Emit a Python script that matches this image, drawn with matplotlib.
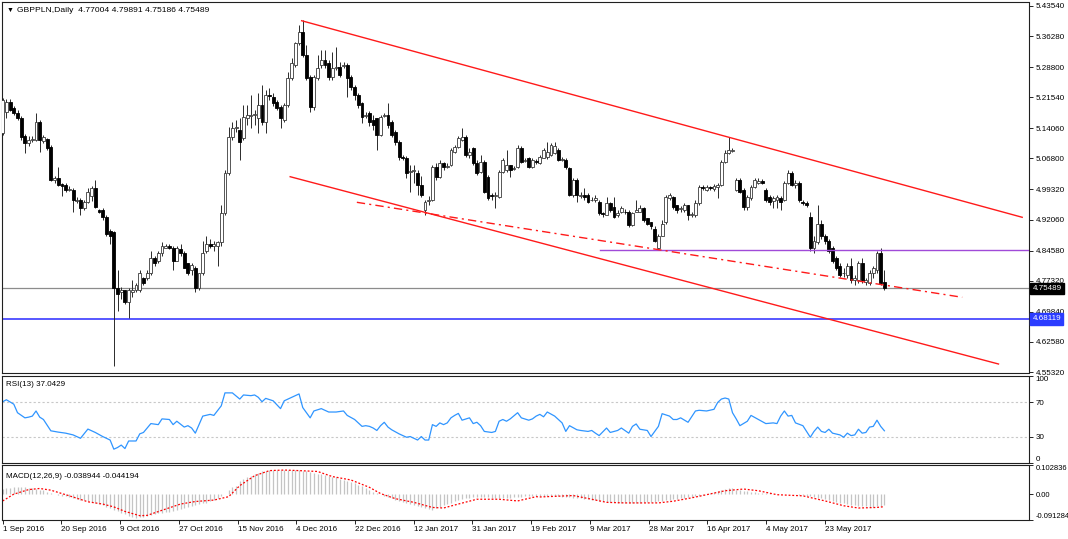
import numpy as np
import matplotlib
matplotlib.use('Agg')
import matplotlib.pyplot as plt
from matplotlib.transforms import blended_transform_factory

plt.rcParams['font.family'] = ['Liberation Sans', 'DejaVu Sans']

W, H = 1068, 539
FS = 5.8

# ---- GBPPLN daily bars ----
opens = [
    5.129, 5.180, 5.204, 5.189, 5.177, 5.165, 5.122, 5.105, 5.112, 5.112,
    5.155, 5.109, 5.114, 5.095, 5.015, 5.020, 5.006, 5.003, 4.991, 4.991,
    4.965, 4.967, 4.948, 4.962, 4.977, 4.996, 4.943, 4.943, 4.926, 4.894,
    4.890, 4.755, 4.747, 4.750, 4.721, 4.747, 4.750, 4.750, 4.781, 4.781,
    4.791, 4.829, 4.822, 4.839, 4.853, 4.856, 4.853, 4.822, 4.849, 4.841,
    4.815, 4.798, 4.805, 4.755, 4.791, 4.846, 4.861, 4.856, 4.858, 4.866,
    4.936, 5.032, 5.119, 5.141, 5.136, 5.117, 5.165, 5.170, 5.172, 5.165,
    5.196, 5.155, 5.220, 5.216, 5.204, 5.192, 5.160, 5.196, 5.262, 5.293,
    5.346, 5.373, 5.317, 5.264, 5.192, 5.262, 5.293, 5.305, 5.298, 5.264,
    5.286, 5.288, 5.291, 5.293, 5.264, 5.240, 5.220, 5.201, 5.170, 5.177,
    5.160, 5.165, 5.124, 5.170, 5.172, 5.155, 5.131, 5.107, 5.071, 5.068,
    5.035, 5.037, 5.032, 5.003, 4.943, 4.965, 4.967, 5.047, 5.023, 5.056,
    5.047, 5.052, 5.083, 5.095, 5.112, 5.119, 5.076, 5.093, 5.056, 5.035,
    5.059, 5.023, 4.979, 4.977, 4.974, 5.035, 5.039, 5.052, 5.042, 5.047,
    5.093, 5.061, 5.068, 5.047, 5.061, 5.056, 5.068, 5.071, 5.076, 5.080,
    5.088, 5.064, 5.064, 5.044, 4.979, 5.015, 4.977, 4.979, 4.979, 4.967,
    4.967, 4.962, 4.936, 4.931, 4.960, 4.950, 4.931, 4.940, 4.940, 4.938,
    4.907, 4.940, 4.940, 4.948, 4.924, 4.916, 4.899, 4.853, 4.882, 4.914,
    4.972, 4.974, 4.955, 4.945, 4.943, 4.955, 4.931, 4.931, 4.960, 4.998,
    4.991, 4.998, 4.994, 4.998, 5.003, 5.059, 5.080, 5.085, 4.991, 5.015,
    4.991, 4.950, 4.972, 4.998, 5.008, 5.013, 4.991, 4.974, 4.965, 4.967,
    4.972, 4.967, 5.008, 5.032, 5.003, 5.008, 4.962, 4.960, 4.926, 4.851,
    4.866, 4.909, 4.880, 4.870, 4.851, 4.827, 4.810, 4.791, 4.786, 4.808,
    4.776, 4.774, 4.817, 4.771, 4.769, 4.791, 4.798, 4.841, 4.77004,
]
highs = [
    5.213, 5.211, 5.211, 5.194, 5.184, 5.170, 5.126, 5.122, 5.122, 5.177,
    5.160, 5.124, 5.117, 5.100, 5.025, 5.047, 5.010, 5.008, 5.001, 4.996,
    4.974, 4.972, 4.967, 4.996, 5.001, 5.015, 4.945, 4.948, 4.931, 4.899,
    4.894, 4.798, 4.757, 4.752, 4.755, 4.776, 4.767, 4.798, 4.783, 4.798,
    4.846, 4.834, 4.846, 4.866, 4.861, 4.861, 4.858, 4.856, 4.861, 4.846,
    4.817, 4.817, 4.810, 4.793, 4.870, 4.880, 4.875, 4.870, 4.870, 4.955,
    5.039, 5.143, 5.155, 5.160, 5.165, 5.196, 5.196, 5.220, 5.184, 5.225,
    5.245, 5.232, 5.237, 5.225, 5.208, 5.196, 5.201, 5.276, 5.310, 5.349,
    5.390, 5.402, 5.341, 5.269, 5.269, 5.317, 5.329, 5.329, 5.305, 5.324,
    5.336, 5.300, 5.300, 5.298, 5.269, 5.245, 5.225, 5.204, 5.180, 5.182,
    5.172, 5.165, 5.172, 5.177, 5.201, 5.160, 5.136, 5.112, 5.076, 5.073,
    5.052, 5.052, 5.039, 5.025, 4.967, 4.977, 5.052, 5.056, 5.064, 5.059,
    5.056, 5.093, 5.100, 5.122, 5.141, 5.124, 5.093, 5.095, 5.064, 5.076,
    5.064, 5.027, 4.984, 4.986, 5.039, 5.068, 5.088, 5.052, 5.049, 5.100,
    5.097, 5.068, 5.071, 5.068, 5.066, 5.076, 5.093, 5.107, 5.105, 5.107,
    5.093, 5.071, 5.068, 5.047, 5.020, 5.020, 4.986, 4.996, 4.984, 4.974,
    4.979, 4.967, 4.938, 4.974, 4.962, 4.974, 4.943, 4.953, 4.945, 4.943,
    4.940, 4.967, 4.955, 4.950, 4.924, 4.916, 4.904, 4.887, 4.919, 4.979,
    4.984, 4.977, 4.957, 4.953, 4.960, 4.957, 4.938, 4.967, 5.003, 5.003,
    5.003, 5.001, 5.006, 5.008, 5.064, 5.088, 5.119, 5.093, 5.020, 5.020,
    4.996, 4.979, 5.003, 5.020, 5.020, 5.018, 4.996, 4.979, 4.977, 4.979,
    4.977, 5.013, 5.039, 5.037, 5.015, 5.013, 4.967, 4.965, 4.938, 4.880,
    4.955, 4.919, 4.885, 4.875, 4.858, 4.834, 4.815, 4.803, 4.817, 4.829,
    4.788, 4.822, 4.827, 4.779, 4.798, 4.810, 4.846, 4.851, 4.79891,
]
lows = [
    5.124, 5.165, 5.182, 5.172, 5.160, 5.112, 5.080, 5.097, 5.107, 5.109,
    5.083, 5.105, 5.088, 5.013, 5.010, 5.001, 4.977, 4.986, 4.989, 4.938,
    4.960, 4.931, 4.943, 4.960, 4.965, 4.948, 4.936, 4.919, 4.882, 4.863,
    4.568, 4.701, 4.730, 4.718, 4.684, 4.735, 4.745, 4.747, 4.764, 4.776,
    4.788, 4.810, 4.817, 4.834, 4.851, 4.849, 4.798, 4.820, 4.834, 4.803,
    4.786, 4.786, 4.747, 4.752, 4.788, 4.841, 4.851, 4.846, 4.810, 4.858,
    4.931, 5.027, 5.112, 5.131, 5.064, 5.112, 5.148, 5.141, 5.148, 5.129,
    5.148, 5.129, 5.208, 5.194, 5.184, 5.141, 5.155, 5.192, 5.257, 5.288,
    5.341, 5.312, 5.257, 5.180, 5.184, 5.257, 5.286, 5.286, 5.257, 5.257,
    5.281, 5.264, 5.286, 5.216, 5.232, 5.208, 5.189, 5.153, 5.165, 5.146,
    5.136, 5.088, 5.122, 5.167, 5.141, 5.119, 5.100, 5.064, 5.064, 5.020,
    4.986, 5.010, 4.979, 4.974, 4.931, 4.955, 4.965, 5.015, 5.020, 5.039,
    5.044, 5.049, 5.080, 5.093, 5.109, 5.071, 5.068, 5.052, 5.027, 5.032,
    4.984, 4.967, 4.967, 4.948, 4.972, 5.032, 5.035, 5.023, 5.039, 5.044,
    5.056, 5.059, 5.044, 5.044, 5.054, 5.054, 5.068, 5.066, 5.073, 5.078,
    5.061, 5.061, 5.042, 4.977, 4.974, 4.962, 4.972, 4.967, 4.960, 4.965,
    4.962, 4.931, 4.928, 4.931, 4.938, 4.924, 4.926, 4.936, 4.933, 4.902,
    4.904, 4.938, 4.938, 4.914, 4.907, 4.899, 4.866, 4.849, 4.880, 4.911,
    4.969, 4.945, 4.936, 4.938, 4.940, 4.919, 4.928, 4.928, 4.957, 4.991,
    4.989, 4.991, 4.989, 4.972, 5.001, 5.056, 5.078, 5.083, 4.989, 4.984,
    4.943, 4.943, 4.969, 4.996, 5.006, 5.006, 4.962, 4.955, 4.948, 4.948,
    4.943, 4.965, 5.006, 5.001, 4.996, 4.962, 4.955, 4.950, 4.846, 4.841,
    4.861, 4.875, 4.863, 4.841, 4.817, 4.800, 4.783, 4.783, 4.781, 4.769,
    4.764, 4.769, 4.769, 4.762, 4.764, 4.779, 4.793, 4.764, 4.75186,
]
closes = [
    5.208, 5.204, 5.184, 5.177, 5.165, 5.119, 5.105, 5.112, 5.114, 5.155,
    5.112, 5.119, 5.093, 5.015, 5.020, 5.003, 5.001, 4.991, 4.994, 4.967,
    4.967, 4.948, 4.962, 4.986, 4.996, 4.950, 4.940, 4.926, 4.887, 4.882,
    4.755, 4.742, 4.752, 4.721, 4.750, 4.750, 4.762, 4.791, 4.769, 4.793,
    4.829, 4.817, 4.839, 4.858, 4.856, 4.851, 4.822, 4.851, 4.839, 4.805,
    4.791, 4.812, 4.755, 4.791, 4.841, 4.861, 4.856, 4.861, 4.866, 4.936,
    5.032, 5.119, 5.141, 5.143, 5.107, 5.167, 5.172, 5.172, 5.175, 5.196,
    5.155, 5.220, 5.218, 5.201, 5.189, 5.165, 5.196, 5.262, 5.298, 5.346,
    5.373, 5.317, 5.262, 5.192, 5.264, 5.286, 5.305, 5.293, 5.264, 5.286,
    5.288, 5.269, 5.293, 5.262, 5.240, 5.220, 5.196, 5.167, 5.172, 5.155,
    5.148, 5.124, 5.167, 5.172, 5.148, 5.124, 5.107, 5.071, 5.068, 5.032,
    5.037, 5.039, 5.003, 4.979, 4.962, 4.967, 5.047, 5.023, 5.056, 5.047,
    5.049, 5.088, 5.095, 5.117, 5.119, 5.076, 5.083, 5.056, 5.032, 5.059,
    4.986, 4.972, 4.977, 4.979, 5.035, 5.064, 5.052, 5.039, 5.044, 5.093,
    5.059, 5.064, 5.047, 5.064, 5.059, 5.071, 5.088, 5.083, 5.100, 5.097,
    5.064, 5.066, 5.047, 4.979, 5.015, 4.979, 4.979, 4.974, 4.962, 4.969,
    4.972, 4.936, 4.933, 4.960, 4.943, 4.926, 4.936, 4.948, 4.938, 4.907,
    4.936, 4.943, 4.948, 4.919, 4.911, 4.904, 4.870, 4.882, 4.911, 4.974,
    4.979, 4.950, 4.943, 4.948, 4.955, 4.931, 4.933, 4.960, 4.998, 4.996,
    4.998, 4.996, 5.001, 5.003, 5.059, 5.080, 5.088, 5.088, 5.015, 4.986,
    4.950, 4.974, 4.998, 5.015, 5.013, 5.010, 4.967, 4.962, 4.972, 4.974,
    4.962, 5.008, 5.032, 5.003, 5.010, 4.967, 4.960, 4.955, 4.853, 4.870,
    4.909, 4.880, 4.868, 4.846, 4.822, 4.805, 4.788, 4.793, 4.808, 4.774,
    4.781, 4.817, 4.774, 4.774, 4.793, 4.805, 4.839, 4.769, 4.75489,
]

# ---- RSI(13), sampled along the drawn line (bar, value) ----
rsi_bar = [0, 1, 3, 4, 6, 7, 8, 9, 10, 11, 13, 15, 17, 19, 21, 23, 25, 27, 29, 30,
           31, 32, 33, 34, 36, 37, 38, 40, 42, 43, 45, 46, 47, 49, 50, 51, 52, 54, 56, 57,
           59, 60, 62, 64, 65, 67, 68, 69, 70, 71, 73, 75, 76, 78, 80, 81, 83, 84, 86, 88,
           90, 92, 93, 95, 97, 98, 99, 100, 101, 102, 103, 104, 105, 107, 109, 110, 112, 113, 114, 115,
           116, 117, 118, 119, 120, 121, 122, 123, 124, 126, 127, 128, 129, 130, 132, 133, 134, 135, 136, 137,
           139, 140, 142, 143, 144, 145, 146, 147, 149, 150, 151, 152, 153, 155, 156, 158, 159, 160, 161, 163,
           164, 166, 167, 169, 170, 171, 172, 174, 175, 177, 178, 180, 181, 182, 183, 185, 187, 188, 190, 192,
           193, 194, 195, 196, 197, 198, 199, 201, 202, 204, 206, 208, 209, 210, 211, 212, 213, 214, 216, 217,
           218, 219, 220, 221, 222, 223, 224, 226, 227, 228, 229, 230, 231, 232, 233, 234, 235, 236, 237, 238]
rsi_val = [70.4, 72.7, 67.6, 57.8, 51.9, 52.7, 53.9, 59.8, 52.7, 50.0, 37.0, 35.5, 34.3, 32.3, 28.4, 39.0, 35.1, 30.4, 26.4, 15.9,
           17.8, 20.6, 16.6, 25.3, 25.3, 33.5, 35.1, 45.3, 44.1, 50.7, 50.0, 44.1, 48.0, 41.3, 42.9, 40.2, 34.3, 53.9, 55.9, 54.7,
           65.7, 80.6, 80.6, 73.5, 78.2, 77.4, 78.2, 75.5, 70.4, 74.3, 71.5, 62.5, 71.5, 75.5, 79.4, 63.7, 51.9, 59.8, 62.5, 58.6,
           58.6, 59.8, 54.7, 50.0, 42.1, 42.9, 42.1, 40.2, 37.4, 42.9, 46.8, 41.3, 38.2, 33.5, 29.6, 30.4, 26.4, 30.4, 26.4, 26.4,
           44.1, 42.1, 46.1, 44.1, 46.1, 51.9, 54.7, 57.0, 49.2, 51.9, 45.3, 46.8, 42.9, 36.3, 35.1, 36.3, 48.0, 50.0, 48.0, 50.7,
           57.8, 51.9, 49.2, 50.7, 53.9, 55.9, 53.1, 58.6, 53.9, 50.0, 46.1, 36.3, 42.9, 38.2, 37.4, 36.3, 37.4, 34.3, 31.5, 40.2,
           35.1, 37.4, 40.2, 34.3, 42.1, 44.9, 38.8, 37.4, 30.4, 42.1, 56.7, 53.9, 50.0, 50.0, 51.9, 46.8, 59.8, 60.6, 59.8, 61.7,
           69.6, 73.5, 74.7, 73.5, 57.8, 50.7, 42.9, 48.0, 54.7, 50.0, 45.3, 46.1, 45.3, 53.9, 59.8, 53.9, 54.7, 46.1, 42.9, 36.3,
           29.6, 36.3, 41.3, 36.3, 35.1, 38.8, 34.3, 32.3, 29.6, 34.3, 31.5, 32.3, 38.8, 34.3, 35.1, 41.3, 42.1, 49.2, 42.1, 37.0429]

# ---- MACD(12,26,9): histogram per bar, signal sampled ----
macd_hist = [
    0.018, 0.020, 0.022, 0.024, 0.025, 0.025, 0.024, 0.023, 0.021, 0.019,
    0.016, 0.013, 0.009, 0.005, 0.001, -0.003, -0.005, -0.008, -0.010, -0.013,
    -0.016, -0.019, -0.022, -0.025, -0.029, -0.033, -0.036, -0.040, -0.045, -0.050,
    -0.055, -0.060, -0.066, -0.071, -0.076, -0.080, -0.083, -0.082, -0.080, -0.077,
    -0.073, -0.070, -0.068, -0.066, -0.064, -0.062, -0.060, -0.056, -0.052, -0.048,
    -0.045, -0.042, -0.039, -0.036, -0.033, -0.030, -0.025, -0.020, -0.015, -0.008,
    0.000, 0.015, 0.024, 0.030, 0.045, 0.052, 0.060, 0.065, 0.070, 0.075,
    0.080, 0.082, 0.084, 0.085, 0.085, 0.086, 0.086, 0.086, 0.086, 0.085,
    0.084, 0.083, 0.080, 0.078, 0.075, 0.072, 0.070, 0.068, 0.065, 0.062,
    0.060, 0.055, 0.050, 0.047, 0.044, 0.040, 0.033, 0.027, 0.020, 0.014,
    0.009, 0.005, 0.000, -0.005, -0.010, -0.015, -0.020, -0.024, -0.028, -0.032,
    -0.036, -0.040, -0.043, -0.046, -0.050, -0.053, -0.055, -0.050, -0.045, -0.040,
    -0.035, -0.030, -0.025, -0.020, -0.017, -0.014, -0.012, -0.011, -0.010, -0.010,
    -0.010, -0.011, -0.013, -0.014, -0.015, -0.014, -0.013, -0.012, -0.011, -0.010,
    -0.009, -0.008, -0.007, -0.006, -0.005, -0.005, -0.006, -0.006, -0.007, -0.007,
    -0.008, -0.009, -0.010, -0.011, -0.012, -0.013, -0.015, -0.017, -0.018, -0.020,
    -0.022, -0.024, -0.025, -0.027, -0.028, -0.029, -0.030, -0.030, -0.030, -0.030,
    -0.030, -0.030, -0.030, -0.029, -0.029, -0.028, -0.027, -0.025, -0.023, -0.021,
    -0.019, -0.017, -0.016, -0.014, -0.013, -0.011, -0.010, -0.008, -0.006, -0.004,
    0.000, 0.004, 0.008, 0.012, 0.015, 0.019, 0.022, 0.020, 0.015, 0.013,
    0.011, 0.010, 0.008, 0.006, 0.005, 0.004, 0.003, 0.003, 0.002, 0.002,
    0.001, 0.002, 0.001, 0.000, -0.001, -0.003, -0.004, -0.005, -0.008, -0.011,
    -0.013, -0.015, -0.018, -0.021, -0.025, -0.028, -0.030, -0.033, -0.035, -0.037,
    -0.039, -0.041, -0.042, -0.043, -0.044, -0.045, -0.043, -0.041, -0.038944,
]
sig_bar = [0, 3, 7, 10, 13, 18, 23, 27, 30, 33, 37, 39, 43, 48, 52, 57, 61, 64, 68, 72,
           76, 80, 85, 89, 94, 99, 102, 106, 111, 116, 119, 123, 128, 134, 139, 144, 145, 154, 159, 163,
           168, 177, 181, 186, 190, 195, 200, 204, 209, 216, 222, 227, 231, 236, 238]
sig_val = [-0.024, 0.000, 0.016, 0.020, 0.014, -0.006, -0.027, -0.035, -0.045, -0.061,
           -0.076, -0.075, -0.057, -0.035, -0.026, -0.021, -0.009, 0.030, 0.065, 0.083,
           0.085, 0.083, 0.080, 0.062, 0.050, 0.024, 0.002, -0.016, -0.029, -0.047,
           -0.049, -0.035, -0.018, -0.018, -0.024, -0.009, -0.010, -0.005, -0.018, -0.029,
           -0.031, -0.031, -0.025, -0.013, -0.002, 0.012, 0.018, 0.012, -0.002, -0.006,
           -0.024, -0.041, -0.049, -0.047, -0.044194]

# ---- drawn objects (bar, price anchors) ----
chan_top = ([80.7, 275.2], [5.3999, 4.9262])
chan_bot = ([77.6, 268.8], [5.0240, 4.5726])
dash_line = ([95.6, 259.0], [4.9623, 4.7334])
purple_level, purple_from = 4.8465, 161.3
blue_level = 4.68119
last_price = 4.75489

price_ticks = [5.43540, 5.36280, 5.28800, 5.21540, 5.14060, 5.06800, 4.99320,
               4.92060, 4.84580, 4.77320, 4.69840, 4.62580, 4.55320]
date_labels = ['1 Sep 2016', '20 Sep 2016', '9 Oct 2016', '27 Oct 2016', '15 Nov 2016',
               '4 Dec 2016', '22 Dec 2016', '12 Jan 2017', '31 Jan 2017', '19 Feb 2017',
               '9 Mar 2017', '28 Mar 2017', '16 Apr 2017', '4 May 2017', '23 May 2017']
date_step = 15.85

n = len(closes)
assert len(opens) == n and len(highs) == n and len(lows) == n and len(macd_hist) == n
assert len(rsi_bar) == len(rsi_val) and len(sig_bar) == len(sig_val)

XL = (-0.32, 276.9)


def px_axes(fig, x0, y0, x1, y1):
    return fig.add_axes([x0 / W, 1 - y1 / H, (x1 - x0) / W, (y1 - y0) / H])


def style_axes(ax):
    for s in ax.spines.values():
        s.set_linewidth(0.8)
        s.set_color('#202020')
    ax.yaxis.tick_right()
    ax.tick_params(axis='y', direction='out', length=3, width=0.6, pad=2.0,
                   labelsize=FS, right=True, left=False)
    ax.tick_params(axis='x', bottom=False, labelbottom=False)
    ax.set_xlim(*XL)


fig = plt.figure(figsize=(W / 100, H / 100), dpi=100)
fig.patch.set_facecolor('white')

# ---- main price panel ----
ax = px_axes(fig, 1.5, 2, 1028.5, 373)
style_axes(ax)
ax.set_ylim(4.55093, 5.44504)
ax.set_yticks(price_ticks)
ax.set_yticklabels([f'{p:.5f}' for p in price_ticks])

x = np.arange(n)
o, hi, lo, c = (np.array(a) for a in (opens, highs, lows, closes))
up = c >= o
ax.vlines(x, lo, hi, color='#2a2a2a', lw=0.7, zorder=2)
body_lo = np.minimum(o, c)
body_h = np.maximum(np.abs(c - o), 0.0006)
ax.bar(x[up], body_h[up], bottom=body_lo[up], width=0.78, facecolor='white',
       edgecolor='#3a3a3a', linewidth=0.6, zorder=3)
ax.bar(x[~up], body_h[~up], bottom=body_lo[~up], width=0.78, facecolor='black',
       edgecolor='black', linewidth=0.6, zorder=3)

ax.axhline(last_price, color='#8c8c8c', lw=0.9, zorder=1)
ax.axhline(blue_level, color='#4a4aff', lw=1.3, zorder=1)
ax.plot([purple_from, XL[1]], [purple_level] * 2, color='#a04ad8', lw=1.0, zorder=4)
ax.plot(*chan_top, color='#ff1a1a', lw=1.0, zorder=4)
ax.plot(*chan_bot, color='#ff1a1a', lw=1.0, zorder=4)
ax.plot(*dash_line, color='#ff1a1a', lw=1.0, zorder=4, linestyle=(0, (6, 3, 1.5, 3)))

tr = blended_transform_factory(ax.transAxes, ax.transData)
ax.text(1.004, last_price, '4.75489', transform=tr, ha='left', va='center', fontsize=FS,
        color='white', zorder=6,
        bbox=dict(boxstyle='square,pad=0.28', fc='black', ec='black'))
ax.text(1.004, blue_level, '4.68119', transform=tr, ha='left', va='center', fontsize=FS,
        color='white', zorder=6,
        bbox=dict(boxstyle='square,pad=0.28', fc='#2b3cff', ec='#2b3cff'))

fig.text(7 / W, 1 - 10 / H, '\u25bc', fontsize=5, va='center', ha='left')
fig.text(17 / W, 1 - 10 / H, 'GBPPLN,Daily  4.77004 4.79891 4.75186 4.75489',
         fontsize=6.1, va='center', ha='left')

# ---- RSI panel ----
ar = px_axes(fig, 1.5, 376, 1028.5, 463)
style_axes(ar)
ar.set_ylim(0, 100)
ar.axhline(70, color='#c8c8c8', lw=0.8, linestyle=(0, (2, 2)))
ar.axhline(30, color='#c8c8c8', lw=0.8, linestyle=(0, (2, 2)))
ar.plot(rsi_bar, rsi_val, color='#2f95ff', lw=0.9)
ar.set_yticks([100, 70, 30, 0])
ar.set_yticklabels(['100', '70', '30', '0'])
tl = ar.get_yticklabels()
tl[0].set_va('top')
tl[3].set_va('bottom')
fig.text(6 / W, 1 - 384 / H, 'RSI(13) 37.0429', fontsize=FS, va='center', ha='left')

# ---- MACD panel ----
am = px_axes(fig, 1.5, 465, 1028.5, 520)
style_axes(am)
am.set_ylim(-0.091284, 0.102836)
am.vlines(x, 0, macd_hist, color='#c4c4c4', lw=0.9)
am.plot(sig_bar, sig_val, color='red', lw=0.9, linestyle=(0, (1.5, 1.5)))
am.set_yticks([0.102836, 0.0, -0.091284])
am.set_yticklabels(['0.102836', '0.00', '-0.091284'])
am.tick_params(axis='y', labelsize=5.5)
tl = am.get_yticklabels()
tl[0].set_va('top')
tl[2].set_va('bottom')
fig.text(6 / W, 1 - 476 / H, 'MACD(12,26,9) -0.038944 -0.044194', fontsize=FS,
         va='center', ha='left')

date_pos = np.arange(len(date_labels)) * date_step
am.set_xticks(date_pos)
am.set_xticklabels(date_labels)
am.tick_params(axis='x', bottom=True, labelbottom=True, direction='out', length=3,
               width=0.6, pad=1.5, labelsize=FS)
for t in am.get_xticklabels():
    t.set_ha('left')

fig.savefig('out.png', dpi=100)
